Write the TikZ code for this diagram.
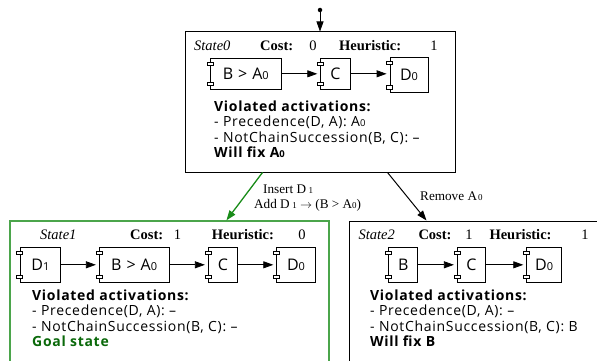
\documentclass[tikz,border=0pt]{standalone}
\usepackage{fontspec}
\setmainfont{Liberation Serif}
\newfontfamily\sansbody[LetterSpace=5]{Open Sans}
\usetikzlibrary{arrows.meta}
\definecolor{goalgreen}{RGB}{10,105,10}
\definecolor{boxgreen}{RGB}{75,165,75}
\definecolor{edgegreen}{RGB}{25,140,25}
\newcommand\subsm[1]{{\fontsize{9.5}{9.5}\selectfont #1}}
\newcommand\subcmp[1]{{\fontsize{11}{11}\selectfont #1}}
\newcommand\subser[1]{{\fontsize{9}{9}\selectfont #1}}
\newcommand\compnode[6]{%
  \node[comp, minimum width={#4-#2}, minimum height={#5-#3}] (#1) at ({(#2+#4)/2},{(#3+#5)/2}) {#6};
  \draw[port] (#1.north west) ++(-3,4) rectangle ++(6,3.5);
  \draw[port] (#1.south west) ++(-3,-7.5) rectangle ++(6,3.5);
}
\begin{document}
\begin{tikzpicture}[x=1pt,y=-1pt,
  statebox/.style={draw, line width=1pt, inner sep=0, minimum width=#1},
  comp/.style={draw, line width=0.8pt, fill=white, inner sep=0, font=\sansbody\fontsize{16}{16}\selectfont},
  port/.style={draw, line width=0.7pt, fill=white},
  flow/.style={-{Triangle[length=10pt,width=7pt]}, line width=0.8pt, shorten >=3pt},
  tedge/.style={-{Triangle[length=10pt,width=7pt]}, line width=1pt},
  hdr/.style={anchor=base west, inner sep=0, font=\fontsize{14.5}{14.5}\selectfont},
  hnum/.style={anchor=base, inner sep=0, font=\fontsize{14.5}{14.5}\selectfont},
  body/.style={anchor=base west, inner sep=0, font=\sansbody\fontsize{14}{14}\selectfont},
  bodyb/.style={body, font=\sansbody\bfseries\fontsize{14}{14}\selectfont},
  elab/.style={anchor=base west, inner sep=0, text height=9.5pt, text depth=2.5pt, font=\fontsize{13.2}{13.2}\selectfont}]
\useasboundingbox (0,0) rectangle (597,361);
\clip (0,0) rectangle (597,361);

% states
\node[statebox=270pt, minimum height=140pt] (s0) at (320,102) {};
\node[statebox=319pt, minimum height=170pt, draw=boxgreen, line width=1.2pt] (s1) at (169.5,306) {};
\node[statebox=271pt, minimum height=170pt] (s2) at (484.5,306) {};

% initial
\node[circle, fill, inner sep=0, minimum size=4.5pt] (start) at (320,10) {};
\draw[tedge, line width=0.8pt] (start) -- (s0.north);

% State0 header
\node[hdr, font=\itshape\fontsize{14.5}{14.5}\selectfont] (h0n) at (194,50.5) {State0};
\node[hdr, font=\bfseries\fontsize{14.5}{14.5}\selectfont] (h0c) at (260,50.5) {Cost:};
\node[hnum] (h0cv) at (313,50.5) {0};
\node[hdr, font=\bfseries\fontsize{14.5}{14.5}\selectfont] (h0h) at (339,50.5) {Heuristic:};
\node[hnum] (h0hv) at (434,50.5) {1};

% State0 components
\compnode{s0a}{210.5}{58.3}{281}{89.3}{B > A\subcmp{0}}
\compnode{s0b}{320.7}{58.3}{350}{89.3}{C}
\compnode{s0c}{390}{57.7}{428}{92.7}{D\subcmp{0}}
\draw[flow] (s0a) -- (s0b);
\draw[flow] (s0b.east) -- (s0b.east -| s0c.west);

% State0 body
\node[bodyb] (b0a) at (214,111.5) {Violated activations:};
\node[body] (b0b) at (214,126.8) {- Precedence(D, A): A\subsm{0}};
\node[body] (b0c) at (214,142.1) {- NotChainSuccession(B, C): –};
\node[bodyb] (b0d) at (214,157.4) {Will fix A\subsm{0}};

% State1 header
\node[hdr, font=\itshape\fontsize{14.5}{14.5}\selectfont] (h1n) at (40,239.3) {State1};
\node[hdr, font=\bfseries\fontsize{14.5}{14.5}\selectfont] (h1c) at (130,239.3) {Cost:};
\node[hnum] (h1cv) at (177.5,239.3) {1};
\node[hdr, font=\bfseries\fontsize{14.5}{14.5}\selectfont] (h1h) at (211.7,239.3) {Heuristic:};
\node[hnum] (h1hv) at (302,239.3) {0};

% State1 components
\compnode{s1a}{20}{247.3}{60.7}{282.3}{D\subcmp{1}}
\compnode{s1b}{99.3}{247.3}{169}{282.3}{B > A\subcmp{0}}
\compnode{s1c}{208.3}{247.3}{237.7}{282.3}{C}
\compnode{s1d}{276.7}{247.3}{315.3}{282.3}{D\subcmp{0}}
\draw[flow] (s1a) -- (s1b);
\draw[flow] (s1b) -- (s1c);
\draw[flow] (s1c) -- (s1d);

% State1 body
\node[bodyb] (b1a) at (32,300.5) {Violated activations:};
\node[body] (b1b) at (32,315.8) {- Precedence(D, A): –};
\node[body] (b1c) at (32,331.1) {- NotChainSuccession(B, C): –};
\node[bodyb, text=goalgreen] (b1d) at (32,346.4) {Goal state};

% State2 header
\node[hdr, font=\itshape\fontsize{14.5}{14.5}\selectfont] (h2n) at (358.3,239.3) {State2};
\node[hdr, font=\bfseries\fontsize{14.5}{14.5}\selectfont] (h2c) at (418.3,239.3) {Cost:};
\node[hnum] (h2cv) at (469,239.3) {1};
\node[hdr, font=\bfseries\fontsize{14.5}{14.5}\selectfont] (h2h) at (489.3,239.3) {Heuristic:};
\node[hnum] (h2hv) at (585,239.3) {1};

% State2 components
\compnode{s2a}{388.7}{247.3}{417.7}{282.3}{B}
\compnode{s2b}{457.3}{247.3}{485.7}{282.3}{C}
\compnode{s2c}{526.7}{247.3}{561.7}{282.3}{D\subcmp{0}}
\draw[flow] (s2a) -- (s2b);
\draw[flow] (s2b) -- (s2c);

% State2 body
\node[bodyb] (b2a) at (370,300.5) {Violated activations:};
\node[body] (b2b) at (370,315.8) {- Precedence(D, A): –};
\node[body] (b2c) at (370,331.1) {- NotChainSuccession(B, C): B};
\node[bodyb] (b2d) at (370,346.4) {Will fix B};

% transitions
\draw[tedge, draw=edgegreen, fill=edgegreen, line width=1.3pt] ([xshift=78pt]s0.south west) -- ([xshift=217pt]s1.north west);
\draw[tedge] ([xshift=203pt]s0.south west) -- ([xshift=78pt]s2.north west);

\node[elab] (l1a) at (263,193.5) {Insert D\hspace{2.5pt}\subser{1}};
\node[elab] (l1b) at (254,208.5) {Add D\hspace{2.5pt}\subser{1} $\rightarrow$ (B > A\subser{0})};
\node[elab] (l2) at (420,200) {Remove A\hspace{1pt}\subser{0}};
\end{tikzpicture}
\end{document}
